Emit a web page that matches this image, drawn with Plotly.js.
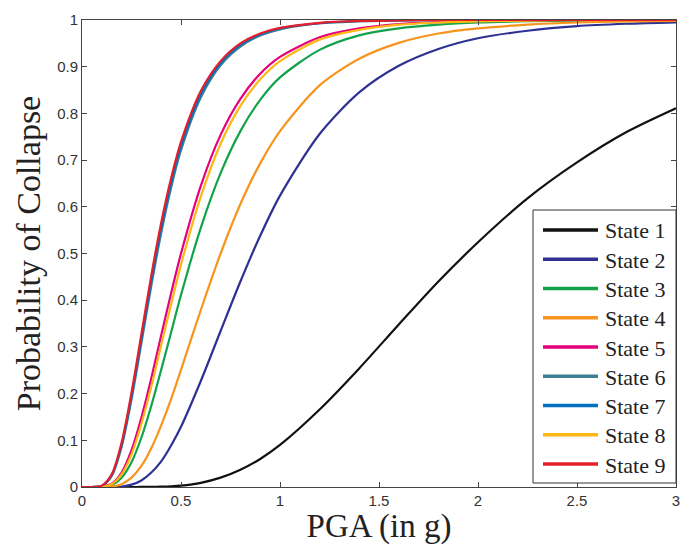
<!DOCTYPE html>
<html>
<head>
<meta charset="utf-8">
<script src="https://cdn.plot.ly/plotly-3.0.1.min.js"></script>
<style>html,body{margin:0;padding:0;background:#fff;}#chart{width:692px;height:545px;}</style>
</head>
<body>
<div id="chart"></div>
<script>
// PGA values (g) at which the curves were read
var pga = [0, 0.05, 0.1, 0.15, 0.2, 0.25, 0.3, 0.35, 0.4, 0.45, 0.5, 0.6, 0.7, 0.8, 0.9, 1.0, 1.2, 1.4, 1.6, 1.8, 2.0, 2.25, 2.5, 2.75, 3.0];

var stateNames = ["State 1", "State 2", "State 3", "State 4", "State 5", "State 6", "State 7", "State 8", "State 9"];

var state1 = [0, 0, 0, 0, 0, 0, 0.0001, 0.0003, 0.0007, 0.0015, 0.003, 0.009, 0.020, 0.037, 0.060, 0.090, 0.166, 0.254, 0.348, 0.440, 0.524, 0.618, 0.695, 0.760, 0.811];
var state2 = [0, 0, 0, 0.0001, 0.001, 0.005, 0.014, 0.031, 0.055, 0.089, 0.129, 0.227, 0.334, 0.440, 0.538, 0.624, 0.756, 0.845, 0.902, 0.938, 0.961, 0.977, 0.987, 0.992, 0.995];
var state3 = [0, 0, 0.0003, 0.004, 0.020, 0.053, 0.106, 0.174, 0.251, 0.331, 0.411, 0.555, 0.672, 0.762, 0.829, 0.877, 0.936, 0.967, 0.982, 0.990, 0.9946, 0.9973, 0.9986, 0.9993, 0.9996];
var state4 = [0, 0, 0.0001, 0.001, 0.006, 0.020, 0.045, 0.083, 0.132, 0.188, 0.251, 0.379, 0.500, 0.606, 0.693, 0.762, 0.860, 0.917, 0.951, 0.971, 0.982, 0.990, 0.9946, 0.9969, 0.9982];
var state5 = [0, 0, 0.0005, 0.007, 0.031, 0.079, 0.149, 0.233, 0.325, 0.415, 0.500, 0.645, 0.754, 0.831, 0.885, 0.921, 0.963, 0.982, 0.991, 0.9955, 0.998, 0.999, 1, 1, 1];
var state6 = [0, 0, 0.002, 0.024, 0.086, 0.187, 0.308, 0.431, 0.544, 0.641, 0.721, 0.834, 0.903, 0.943, 0.967, 0.980, 0.993, 0.997, 0.999, 1, 1, 1, 1, 1, 1];
var state7 = [0, 0, 0.002, 0.025, 0.090, 0.194, 0.317, 0.442, 0.555, 0.651, 0.730, 0.841, 0.908, 0.947, 0.969, 0.982, 0.993, 0.998, 0.999, 1, 1, 1, 1, 1, 1];
var state8 = [0, 0, 0.0004, 0.006, 0.027, 0.070, 0.135, 0.215, 0.304, 0.391, 0.476, 0.622, 0.735, 0.816, 0.873, 0.912, 0.958, 0.979, 0.990, 0.9947, 0.997, 0.9987, 1, 1, 1];
var state9 = [0, 0, 0.003, 0.027, 0.095, 0.202, 0.327, 0.453, 0.566, 0.661, 0.739, 0.848, 0.912, 0.950, 0.971, 0.983, 0.994, 0.998, 0.999, 1, 1, 1, 1, 1, 1];

var xTickVals = [0, 0.5, 1, 1.5, 2, 2.5, 3];
var xTickText = ["0", "0.5", "1", "1.5", "2", "2.5", "3"];
var yTickVals = [0, 0.1, 0.2, 0.3, 0.4, 0.5, 0.6, 0.7, 0.8, 0.9, 1];
var yTickText = ["0", "0.1", "0.2", "0.3", "0.4", "0.5", "0.6", "0.7", "0.8", "0.9", "1"];

var series = [state1, state2, state3, state4, state5, state6, state7, state8, state9];
var colors = ["#111111", "#2e3192", "#12a24a", "#f7941d", "#e6007e", "#3f7f92", "#0070c0", "#fdb813", "#e41e2b"];

var traces = series.map(function (ys, i) {
  return {
    x: pga,
    y: ys,
    name: stateNames[i],
    type: "scatter",
    mode: "lines",
    showlegend: false,
    line: { color: colors[i], width: 2.2, shape: "spline", smoothing: 0.8 }
  };
});

// Legend box drawn in paper coordinates (plot area: x 82..676 px, y 20..487 px)
var W = 594, H = 467;
function px2x(p) { return (p - 82) / W; }
function py2y(p) { return (487 - p) / H; }

var shapes = [{
  type: "rect", xref: "paper", yref: "paper",
  x0: px2x(533), x1: px2x(676), y0: py2y(483), y1: py2y(210),
  line: { color: "#333", width: 1 }, fillcolor: "#fff", layer: "above"
}];
var annotations = [];
stateNames.forEach(function (nm, i) {
  var cy = 230 + 29.25 * i;
  shapes.push({
    type: "line", xref: "paper", yref: "paper",
    x0: px2x(543), x1: px2x(598), y0: py2y(cy), y1: py2y(cy),
    line: { color: colors[i], width: 3.5 }, layer: "above"
  });
  annotations.push({
    xref: "paper", yref: "paper", x: px2x(603), y: py2y(cy + 1),
    xanchor: "left", yanchor: "middle", showarrow: false,
    text: nm,
    font: { family: "Liberation Serif, Times New Roman, serif", size: 22, color: "#222" }
  });
});

var layout = {
  width: 692,
  height: 545,
  margin: { l: 82, r: 16, t: 20, b: 58 },
  paper_bgcolor: "#fff",
  plot_bgcolor: "#fff",
  showlegend: false,
  shapes: shapes,
  annotations: annotations,
  xaxis: {
    range: [0, 3],
    tickvals: xTickVals,
    ticktext: xTickText,
    ticks: "inside",
    ticklen: 5,
    tickcolor: "#444",
    showline: true,
    linecolor: "#444",
    linewidth: 1,
    mirror: "ticks",
    showgrid: false,
    zeroline: false,
    tickfont: { family: "Liberation Sans, Arial, sans-serif", size: 15, color: "#333" },
    title: { text: "PGA (in g)", font: { family: "Liberation Serif, Times New Roman, serif", size: 33, color: "#222" }, standoff: 6 }
  },
  yaxis: {
    range: [0, 1],
    tickvals: yTickVals,
    ticktext: yTickText,
    ticks: "inside",
    ticklen: 5,
    tickcolor: "#444",
    showline: true,
    linecolor: "#444",
    linewidth: 1,
    mirror: "ticks",
    showgrid: false,
    zeroline: false,
    tickfont: { family: "Liberation Sans, Arial, sans-serif", size: 15, color: "#333" },
    title: { text: "Probability of Collapse", font: { family: "Liberation Serif, Times New Roman, serif", size: 34, color: "#222" }, standoff: 6 }
  }
};

Plotly.newPlot("chart", traces, layout, { displayModeBar: false, staticPlot: true });
</script>
</body>
</html>
